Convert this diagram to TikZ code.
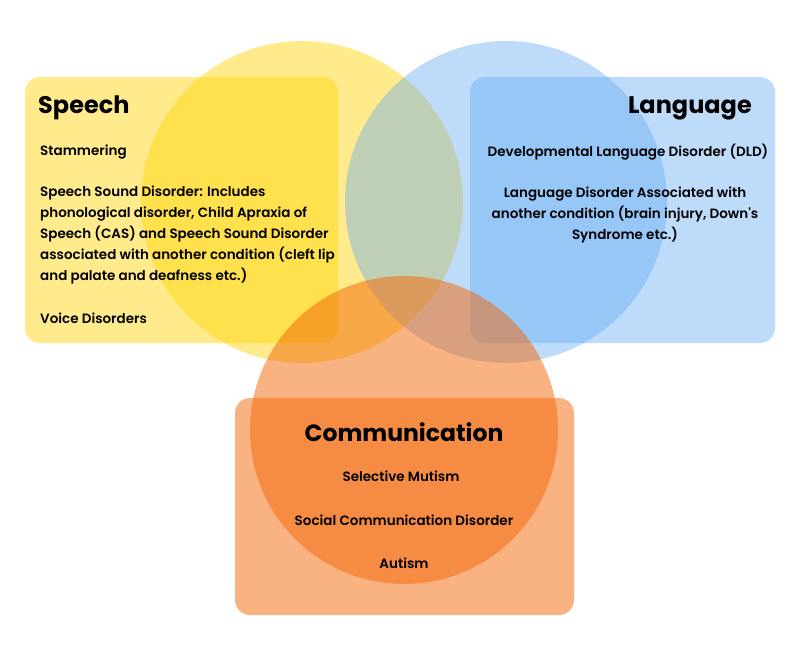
\documentclass[tikz,border=0pt]{standalone}
\usepackage{fontspec}
\setmainfont{Poppins}
\newfontfamily\itemfont{Poppins SemiBold}
\usetikzlibrary{positioning}

\definecolor{speechyellow}{RGB}{255,210,0}
\definecolor{languageblue}{RGB}{93,168,243}
\definecolor{commorange}{RGB}{243,101,5}

\tikzset{
  panel/.style={rounded corners=15pt},
  title/.style={font=\bfseries\fontsize{24}{28}\selectfont, inner sep=0pt},
  item/.style={font=\itemfont\fontsize{13.5}{21}\selectfont, inner sep=0pt},
}

\begin{document}
\begin{tikzpicture}[x=1pt, y=-1pt]
    % canvas
    \useasboundingbox (0,0) rectangle (800,661);

    % Speech
    \fill[panel, speechyellow, opacity=0.45] (25,77) rectangle (338,343);
    \fill[speechyellow, opacity=0.45] (302,202) circle (161);

    % Language
    \fill[panel, languageblue, opacity=0.4] (470,77) rectangle (775,343);
    \fill[languageblue, opacity=0.4] (506,202) circle (161);

    % Communication
    \fill[panel, commorange, opacity=0.5] (235,398) rectangle (574,615);
    \fill[commorange, opacity=0.5] (404,430) circle (154);

    % Speech text
    \node[title, anchor=base west] (speech) at (38,113) {Speech};
    \node[item, anchor=base west] (stammering) at (40,155) {Stammering};
    \node[item, anchor=north west, align=left] (ssd) at (40,186)
      {Speech Sound Disorder: Includes\\
       phonological disorder, Child Apraxia of\\
       Speech (CAS) and Speech Sound Disorder\\
       associated with another condition (cleft lip\\
       and palate and deafness etc.)};
    \node[item, anchor=base west] (voice) at (40,323) {Voice Disorders};

    % Language text
    \node[title, anchor=base east] (language) at (752,113) {Language};
    \node[item, anchor=base] (dld) at (628,156) {Developmental Language Disorder (DLD)};
    \node[item, anchor=north, align=center] (ldother) at (625,187)
      {Language Disorder Associated with\\
       another condition (brain injury, Down's\\
       Syndrome etc.)};

    % Communication text
    \node[title, font=\bfseries\fontsize{23.5}{28}\selectfont, anchor=base] (communication) at (404,441) {Communication};
    \node[item, anchor=base] (mutism) at (401,481) {Selective Mutism};
    \node[item, anchor=base] (scd) at (404,525) {Social Communication Disorder};
    \node[item, anchor=base] (autism) at (404,568) {Autism};
\end{tikzpicture}
\end{document}
